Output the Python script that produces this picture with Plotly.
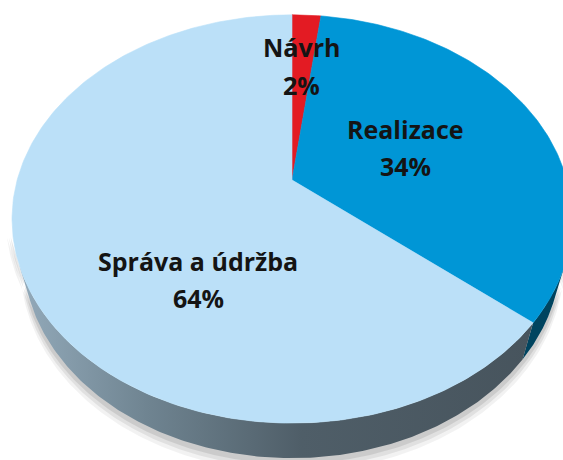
import numpy as np
import plotly.graph_objects as go

# ---- data ----
categories = ["Návrh", "Realizace", "Správa a údržba"]
values = [2, 34, 64]
pct_labels = ["2%", "34%", "64%"]

# ---- styles / geometry (not data) ----
top_colors = ["#E31B23", "#0096D6", "#BBE0F8"]
side_colors = ["#8E1015", "#00445F", None]  # last side uses gradient
W, H = 563, 460
CX, CY = 292.0, 180.0          # projected centre of pie
TILT = np.deg2rad(45.7)
S, C = np.sin(TILT), np.cos(TILT)
DIST = 3.657
FOC = 1005.0
THICK = 0.206
label_name_pos = [(301, 47), (405, 129), (198, 261)]
label_pct_pos = [(301, 85), (405, 166), (198, 298)]


def proj(f, r=1.0, w=0.0):
    a = 2 * np.pi * np.asarray(f)
    u = r * np.sin(a)
    v = r * np.cos(a)
    X = u
    Y = v * S + w * C
    Z = DIST + v * C - w * S
    return CX + FOC * X / Z, CY - FOC * Y / Z


total = float(sum(values))
fracs = np.array(values) / total
bounds = np.concatenate([[0.0], np.cumsum(fracs)])

# visible range of the outer wall
k = 1.0 / (C * DIST)
vis_lo = np.arccos(-k) / (2 * np.pi)
vis_hi = 1.0 - vis_lo

fig = go.Figure()

# soft shadow under the pie
for off, alpha in [(0.05, 0.05), (0.035, 0.07), (0.02, 0.09)]:
    ff = np.linspace(vis_lo - 0.02, vis_hi + 0.02, 200)
    xt, yt = proj(ff, 1.0 + off * 0.4, 0.0)
    xb, yb = proj(ff[::-1], 1.0 + off * 0.4, -THICK - off)
    fig.add_trace(go.Scatter(
        x=np.concatenate([xt, xb]), y=np.concatenate([yt, yb]),
        mode="lines", line=dict(width=0), fill="toself",
        fillcolor=f"rgba(0,0,0,{alpha})", hoverinfo="skip", showlegend=False))

# side walls
for i in range(len(values)):
    lo = max(bounds[i], vis_lo)
    hi = min(bounds[i + 1], vis_hi)
    if hi <= lo:
        continue
    ff = np.linspace(lo, hi, 200)
    xt, yt = proj(ff, 1.0, 0.0)
    xb, yb = proj(ff[::-1], 1.0, -THICK)
    xs = np.concatenate([xt, xb, xt[:1]])
    ys = np.concatenate([yt, yb, yt[:1]])
    if side_colors[i] is None:
        fig.add_trace(go.Scatter(
            x=xs, y=ys, mode="lines", line=dict(width=0), fill="toself",
            fillgradient=dict(type="horizontal",
                              colorscale=[[0, "#93AABA"], [0.25, "#6F8491"],
                                          [0.55, "#4F5E68"], [1, "#47545D"]]),
            hoverinfo="skip", showlegend=False))
    else:
        fig.add_trace(go.Scatter(
            x=xs, y=ys, mode="lines", line=dict(width=0), fill="toself",
            fillcolor=side_colors[i], hoverinfo="skip", showlegend=False))

# top faces
for i in range(len(values)):
    ff = np.linspace(bounds[i], bounds[i + 1], max(20, int(400 * fracs[i])))
    xa, ya = proj(ff, 1.0, 0.0)
    xs = np.concatenate([[CX], xa, [CX]])
    ys = np.concatenate([[CY], ya, [CY]])
    fig.add_trace(go.Scatter(
        x=xs, y=ys, mode="lines", line=dict(width=0.6, color=top_colors[i]),
        fill="toself", fillcolor=top_colors[i], name=categories[i],
        hoverinfo="skip", showlegend=False))

font = dict(family="'Open Sans', 'Noto Sans', sans-serif", size=25, color="#141414")
for i in range(len(values)):
    fig.add_annotation(x=label_name_pos[i][0], y=label_name_pos[i][1],
                       text=f"<b>{categories[i]}</b>", showarrow=False,
                       font=font, xanchor="center", yanchor="middle")
    fig.add_annotation(x=label_pct_pos[i][0], y=label_pct_pos[i][1],
                       text=f"<b>{pct_labels[i]}</b>", showarrow=False,
                       font=font, xanchor="center", yanchor="middle")

fig.update_layout(
    width=W, height=H, margin=dict(l=0, r=0, t=0, b=0),
    paper_bgcolor="white", plot_bgcolor="white",
    xaxis=dict(range=[0, W], visible=False, fixedrange=True),
    yaxis=dict(range=[H, 0], visible=False, fixedrange=True),
)
fig.write_html("out.html", config={"displayModeBar": False},
               post_script="document.body.style.margin='0';document.body.style.overflow='hidden';")
